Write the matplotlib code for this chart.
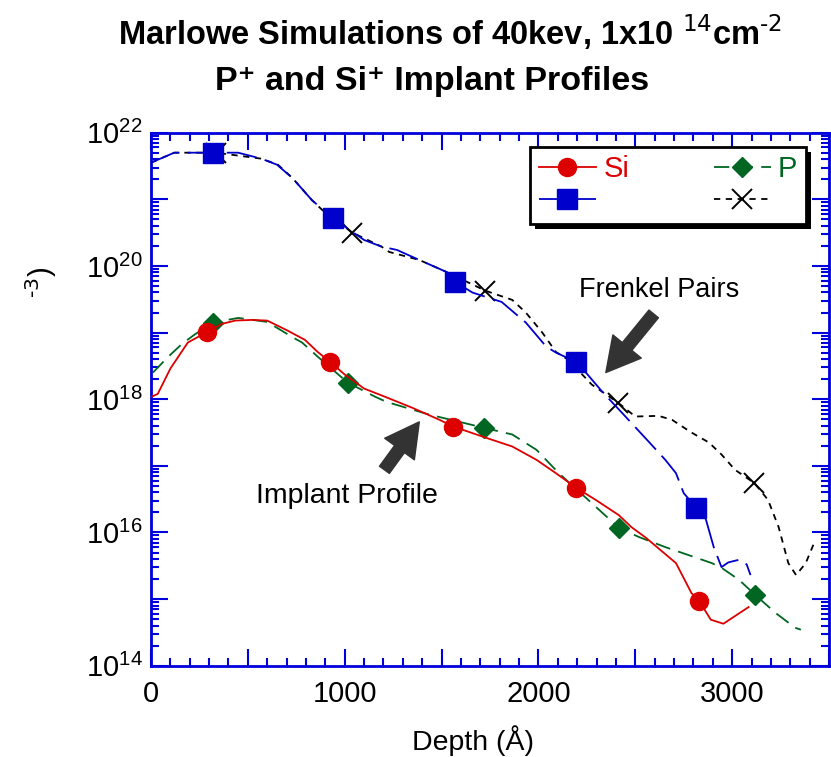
import numpy as np
import matplotlib
matplotlib.use("Agg")
import matplotlib.pyplot as plt
from matplotlib.patches import Rectangle
from matplotlib.ticker import FixedLocator, MultipleLocator, FuncFormatter

plt.rcParams['font.family'] = ['Liberation Sans Narrow', 'Liberation Sans', 'DejaVu Sans']
plt.rcParams['mathtext.fontset'] = 'custom'
plt.rcParams['mathtext.default'] = 'regular'
plt.rcParams['lines.scale_dashes'] = False

# Frenkel pairs, Si+ (blue squares)
fp_si_depth = [0, 120, 320, 450, 570, 650, 730, 830, 900, 940, 1000, 1100, 1190,
               1270, 1385, 1525, 1570, 1660, 1810, 1935, 2040, 2090, 2195, 2245,
               2330, 2430, 2570, 2655, 2710, 2750, 2815, 2865, 2905, 2945, 2980,
               3035, 3075, 3095]
fp_si_log = [21.55, 21.70, 21.70, 21.70, 21.61, 21.52, 21.32, 20.99, 20.81, 20.72,
             20.59, 20.39, 20.29, 20.24, 20.09, 19.91, 19.76, 19.60, 19.46, 19.15,
             18.79, 18.70, 18.56, 18.40, 18.11, 17.80, 17.36, 17.09, 16.89, 16.59,
             16.37, 16.19, 15.78, 15.48, 15.55, 15.59, 15.52, 15.36]
fp_si_marks = [320, 940, 1570, 2195, 2815]

# Frenkel pairs, P+ (black crosses)
fp_p_depth = [0, 120, 335, 570, 655, 730, 830, 895, 1040, 1190, 1230, 1385, 1525,
              1725, 1865, 1935, 2020, 2090, 2155, 2275, 2410, 2500, 2620, 2690,
              2790, 2880, 2945, 3015, 3115, 3185, 3240, 3290, 3330, 3380, 3430]
fp_p_log = [21.55, 21.70, 21.70, 21.61, 21.52, 21.32, 20.99, 20.81, 20.50, 20.29,
            20.21, 20.09, 19.91, 19.63, 19.49, 19.30, 19.00, 18.71, 18.59, 18.22,
            17.95, 17.74, 17.75, 17.69, 17.50, 17.35, 17.17, 16.94, 16.74, 16.49,
            16.08, 15.54, 15.36, 15.54, 15.89]
fp_p_marks = [335, 1040, 1725, 2410, 3115]

# Implant profile, Si+ (red circles)
si_depth = [5, 35, 100, 190, 290, 365, 435, 520, 600, 705, 795, 860, 925, 1000,
            1100, 1205, 1350, 1490, 1560, 1710, 1865, 1990, 2090, 2195, 2295,
            2415, 2480, 2555, 2710, 2790, 2830, 2890, 2955, 3085]
si_log = [18.04, 18.08, 18.46, 18.85, 19.01, 19.13, 19.18, 19.19, 19.18, 19.03,
          18.89, 18.71, 18.56, 18.37, 18.16, 18.04, 17.87, 17.69, 17.59, 17.44,
          17.29, 17.09, 16.89, 16.67, 16.49, 16.26, 16.08, 15.92, 15.54, 15.09,
          14.97, 14.69, 14.63, 14.88]
si_marks = [290, 925, 1560, 2195, 2830]

# Implant profile, P+ (green diamonds)
p_depth = [10, 90, 160, 225, 320, 450, 600, 725, 780, 860, 1015, 1155, 1215,
           1435, 1720, 1865, 1990, 2105, 2245, 2415, 2520, 2655, 2895, 2945,
           3035, 3120, 3225, 3325, 3355]
p_log = [18.40, 18.64, 18.83, 18.97, 19.15, 19.22, 19.16, 18.94, 18.85, 18.64,
         18.25, 18.04, 17.96, 17.77, 17.57, 17.47, 17.24, 16.89, 16.52, 16.07,
         15.93, 15.78, 15.54, 15.47, 15.29, 15.06, 14.79, 14.57, 14.54]
p_marks = [320, 1015, 1720, 2415, 3120]

RED = '#dd0000'
GREEN = '#006622'
BLUE = '#0000cc'
AXC = '#0000dd'


def series(depth, logc, marks):
    d = np.array(depth, dtype=float)
    c = 10.0 ** np.array(logc)
    idx = [int(np.argmin(np.abs(d - m))) for m in marks]
    return d, c, idx


fig = plt.figure(figsize=(8.31, 7.57), dpi=100)
ax = fig.add_axes([151 / 831, 1 - 665.7 / 757, 678 / 831, 533 / 757])
ax.set_yscale('log')

d, c, idx = series(fp_p_depth, fp_p_log, fp_p_marks)
h_fpp, = ax.plot(d, c, color='black', lw=1.3, ls=(0, (4.5, 4)), marker='x',
                 ms=14, mew=1.4, markevery=idx, zorder=2)
d, c, idx = series(fp_si_depth, fp_si_log, fp_si_marks)
h_fpsi, = ax.plot(d, c, color=BLUE, lw=1.3, ls=(0, (22, 6)), marker='s',
                  ms=14, mec=BLUE, mfc=BLUE, markevery=idx, zorder=3)
d, c, idx = series(p_depth, p_log, p_marks)
h_p, = ax.plot(d, c, color=GREEN, lw=1.3, ls=(0, (11, 6)), marker='D',
               ms=10.5, mfc=GREEN, mec=GREEN, markevery=idx, zorder=4)
d, c, idx = series(si_depth, si_log, si_marks)
h_si, = ax.plot(d, c, color=RED, lw=1.3, marker='o', ms=13, mfc=RED, mec=RED,
                markevery=idx, zorder=5)

ax.set_xlim(0, 3500)
ax.set_ylim(1e14, 1e22)

# ticks
ax.xaxis.set_major_locator(MultipleLocator(500))
ax.xaxis.set_minor_locator(MultipleLocator(100))
ax.xaxis.set_major_formatter(FuncFormatter(lambda v, p: f'{v:.0f}' if v % 1000 == 0 else ''))
ax.yaxis.set_major_locator(FixedLocator([10.0 ** k for k in range(14, 23)]))
ax.yaxis.set_minor_locator(FixedLocator([m * 10.0 ** k for k in range(14, 22) for m in range(2, 10)]))
ax.yaxis.set_major_formatter(FuncFormatter(
    lambda v, p: r'$10^{%d}$' % round(np.log10(v)) if round(np.log10(v)) % 2 == 0 else ''))
ax.tick_params(which='both', direction='in', top=True, right=True, color=AXC,
               labelsize=21, width=1.5)
ax.tick_params(which='major', length=12)
ax.tick_params(which='minor', length=6)
ax.tick_params(axis='x', pad=10)
ax.tick_params(axis='y', pad=6)
for s in ax.spines.values():
    s.set_color(AXC)
    s.set_linewidth(2)

fig.text(473 / 831, 1 - 741 / 757, 'Depth (Å)', fontsize=20.5, ha='center', va='center')
fig.text(41 / 831, 1 - 282 / 757, r'$^{\text{-3}}$)', rotation=90, fontsize=21,
         ha='center', va='center')

# titles
fig.text(0.542, 1 - 45 / 757, r'Marlowe Simulations of 40kev, 1x10 $^{\text{14}}$cm$^{\text{-2}}$',
         ha='center', va='baseline', fontsize=23.5, fontweight='bold')
fig.text(432 / 831, 1 - 90 / 757, 'P⁺ and Si⁺ Implant Profiles',
         ha='center', va='baseline', fontsize=24.5, fontweight='bold')

# annotations
arrow = dict(arrowstyle='simple,head_length=1.1,head_width=1.2,tail_width=0.4',
             color='#333333', mutation_scale=22, shrinkA=0, shrinkB=0)
ax.annotate('', xy=(2348, 10 ** 18.40), xytext=(2595, 10 ** 19.28), arrowprops=arrow)
ax.annotate('', xy=(1385, 10 ** 17.66), xytext=(1205, 10 ** 16.94), arrowprops=arrow)
ax.text(2621, 10 ** 19.64, 'Frenkel Pairs', fontsize=19.5, ha='center', va='center')
ax.text(1009, 10 ** 16.55, 'Implant Profile', fontsize=20.5, ha='center', va='center')

leg = ax.legend([h_si, h_fpsi, h_p, h_fpp], ['Si', '', 'P', ''], ncol=2,
                loc='upper right', bbox_to_anchor=(0.966, 0.974), borderaxespad=0,
                fontsize=21, handlelength=1.95, columnspacing=2.9,
                labelspacing=0.15, borderpad=0.3, handletextpad=0.25,
                fancybox=False, edgecolor='black', framealpha=1,
                labelcolor=[RED, BLUE, GREEN, 'black'])
leg.get_frame().set_linewidth(2)
leg.set_zorder(10)

fig.canvas.draw()
bb = leg.get_window_extent()
shadow = Rectangle((bb.x0 + 5, bb.y0 - 5), bb.width, bb.height, transform=None,
                   facecolor='black', edgecolor='none', zorder=9)
ax.add_artist(shadow)

fig.savefig('out.png', dpi=100)
